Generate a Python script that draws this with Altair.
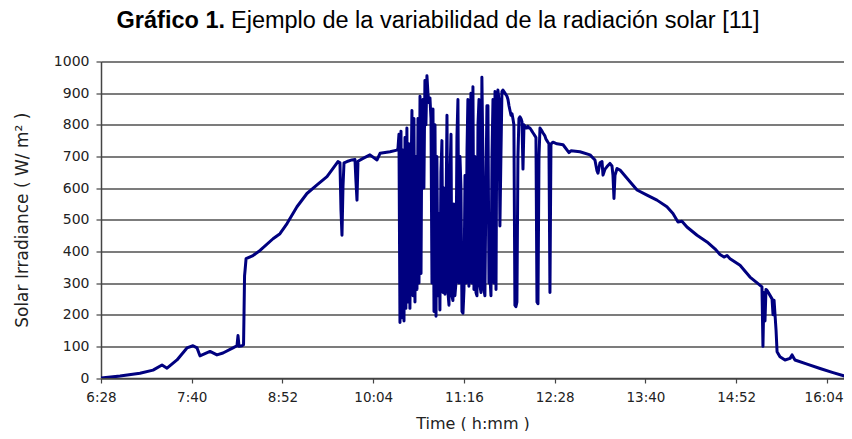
import altair as alt
import pandas as pd

# minutes after 6:28 and irradiance (W/m2)
morning_t = [0, 15.1, 30.9, 41.3, 48.4, 52.4, 60.3, 68.2, 73.0, 76.2,
             78.5, 86.5, 92.0, 96.8, 104.7, 107.9, 108.7, 109.5, 111.9, 113.1,
             113.5, 113.9, 114.3, 115.1, 120.6, 126.2, 136.5, 142.0, 147.6, 155.5,
             163.4, 171.4, 179.3, 184.1, 188.0, 189.6, 190.4, 191.2, 192.0, 192.8,
             195.2, 199.1, 201.5, 202.3, 203.1, 203.9, 207.9, 213.4, 219.0, 221.4,
             229.3, 234.8]
morning_v = [0, 6, 15, 25, 41, 31, 57, 95, 102, 95,
             70, 84, 73, 79, 95, 102, 134, 100, 102, 105,
             212, 323, 340, 377, 387, 403, 440, 456, 488, 541,
             583, 610, 636, 662, 684, 680, 530, 451, 604, 680,
             684, 689, 690, 620, 562, 685, 694, 705, 689, 710,
             715, 720]

midday_t = [235.6, 236.4, 237.2, 238.0, 238.8, 239.6, 240.4, 241.2, 241.9, 242.7,
            243.5, 244.3, 245.1, 245.9, 246.7, 247.5, 248.3, 249.1, 249.9, 250.7,
            251.5, 252.3, 253.1, 253.9, 254.6, 255.4, 256.2, 257.0, 257.8, 258.6,
            259.4, 260.2, 261.0, 261.8, 262.6, 263.4, 264.2, 265.0, 265.8, 266.5,
            267.3, 268.1, 268.9, 269.7, 270.5, 271.3, 272.1, 272.9, 273.7, 274.5,
            275.3, 276.1, 276.9, 277.7, 278.4, 279.2, 280.0, 280.8, 281.6, 282.4,
            283.2, 284.0, 284.8, 285.6, 286.4, 287.2, 288.0, 288.8, 289.6, 290.4,
            291.1, 291.9, 292.7, 293.5, 294.3, 295.1, 295.9, 296.7, 297.5, 298.3,
            299.1, 299.9, 300.7, 301.5, 302.2, 303.0, 303.8, 304.6, 305.4, 306.2,
            307.0, 307.8, 308.6, 309.4, 310.2, 311.0, 311.8, 312.6, 313.4, 314.1,
            314.9, 315.7, 316.5, 317.3, 318.1, 318.9, 319.7, 320.5, 321.3, 322.1,
            322.9, 323.7, 324.5, 325.3, 326.1, 326.8, 327.6, 328.4, 329.2, 330.0,
            330.8, 331.6, 332.4, 333.2, 334.0, 334.8, 335.6, 336.4, 337.2, 338.0,
            338.7, 339.5, 340.3, 341.1, 341.9, 342.7, 343.5, 344.3, 345.1, 345.9,
            346.7, 347.5, 348.3, 349.1, 349.9, 350.6, 351.4, 352.2, 353.0, 353.8,
            354.6, 355.4, 356.2, 357.0, 357.8, 358.6]
midday_v = [725, 770, 175, 780, 190, 720, 180, 760, 220, 790,
            240, 740, 220, 600, 845, 260, 820, 240, 700, 280,
            820, 300, 890, 330, 820, 880, 600, 940, 800, 955,
            900, 870, 885, 820, 300, 850, 210, 800, 195, 700,
            260, 520, 215, 650, 750, 270, 600, 265, 500, 830,
            270, 230, 640, 770, 260, 245, 550, 260, 300, 760,
            880, 300, 700, 600, 210, 205, 280, 640, 300, 720,
            880, 290, 700, 900, 300, 920, 280, 700, 270, 260,
            800, 880, 290, 270, 950, 700, 280, 260, 600, 860,
            860, 300, 320, 260, 700, 880, 300, 905, 280, 860,
            910, 880, 480, 700, 905, 910, 905, 900, 895, 890,
            880, 860, 845, 830, 835, 820, 800, 230, 225, 240,
            700, 820, 825, 820, 810, 660, 800, 795, 790, 790,
            795, 790, 790, 785, 780, 775, 770, 765, 760, 240,
            235, 700, 790, 785, 780, 775, 770, 765, 755, 750,
            745, 740, 270, 740, 742, 745]

afternoon_t = [361.8, 366.6, 371.3, 372.9, 380.0, 388.0, 391.9, 393.5, 394.3, 395.9,
               397.5, 398.3, 399.9, 401.5, 403.8, 405.4, 406.2, 407.0, 407.8, 409.4,
               411.8, 419.7, 425.3, 433.2, 441.1, 449.0, 453.8, 457.8, 460.9, 464.9,
               472.9, 480.8, 487.1, 491.1, 494.3, 496.7, 499.1, 507.0, 514.9, 521.3,
               524.4, 525.2, 526.0, 526.8, 527.6, 528.4, 530.8, 532.4, 533.2, 534.0,
               535.6, 536.4, 538.7, 542.7, 546.7, 548.3, 550.6, 560.2, 570.5, 580.8,
               591.9, 595.8]
afternoon_v = [740, 737, 712, 718, 715, 705, 689, 655, 647, 680,
               684, 641, 660, 668, 678, 670, 640, 567, 640, 662,
               657, 620, 594, 578, 562, 541, 520, 493, 495, 477,
               451, 430, 408, 390, 382, 387, 377, 356, 319, 298,
               288, 100, 270, 180, 280, 277, 261, 250, 200, 246,
               150, 83, 67, 57, 62, 73, 57, 44, 30, 17,
               4, 2]

tick_minutes = [0, 72, 144, 216, 288, 360, 432, 504, 576]
tick_labels = ["6:28", "7:40", "8:52", "10:04", "11:16", "12:28", "13:40", "14:52", "16:04"]
y_ticks = [0, 100, 200, 300, 400, 500, 600, 700, 800, 900, 1000]

title_bold = "Gráfico 1."
title_rest = "Ejemplo de la variabilidad de la radiación solar [11]"

df = pd.DataFrame({"t": morning_t + midday_t + afternoon_t,
                   "v": morning_v + midday_v + afternoon_v})

label_expr = ("[" + ",".join("'%s'" % s for s in tick_labels) + "][indexof(["
              + ",".join(str(m) for m in tick_minutes) + "], datum.value)]")
last_tick_test = "datum.value == %d" % tick_minutes[-1]

FONT = "DejaVu Sans"

line = alt.Chart(df).mark_line(
    color="#00007f", strokeWidth=3, strokeJoin="round", clip=True
).encode(
    x=alt.X("t:Q",
            scale=alt.Scale(domain=[0, 589.5], nice=False, zero=False),
            axis=alt.Axis(values=tick_minutes, labelExpr=label_expr,
                          labelAlign={"condition": {"test": last_tick_test, "value": "right"},
                                      "value": "center"},
                          labelOffset={"condition": {"test": last_tick_test, "value": 16},
                                       "value": 0},
                          title="Time ( h:mm )", grid=False,
                          tickSize=5, labelPadding=7, labelFontSize=13.5,
                          labelFont=FONT, labelColor="#222222",
                          domainColor="#444444", tickColor="#444444",
                          domainWidth=1.5, tickWidth=1.2,
                          titleFont=FONT, titleFontSize=16, titleFontWeight="normal",
                          titleColor="#222222", titleY=50, titleBaseline="alphabetic")),
    y=alt.Y("v:Q",
            scale=alt.Scale(domain=[0, 1000], nice=False),
            axis=alt.Axis(values=y_ticks, format="d", title="Solar Irradiance ( W/ m² )",
                          grid=True, gridColor="#505050", gridWidth=1.3,
                          tickSize=5, labelPadding=7, labelFontSize=14,
                          labelFont=FONT, labelColor="#222222",
                          domainColor="#444444", tickColor="#444444",
                          domainWidth=1.5, tickWidth=1.2,
                          titleFont=FONT, titleFontSize=17, titleFontWeight="normal",
                          titleColor="#222222", titleX=-79, titleBaseline="middle")),
)

title_df = pd.DataFrame({"bold": [title_bold], "rest": [title_rest]})
t_bold = alt.Chart(title_df).mark_text(
    align="right", baseline="alphabetic", fontSize=23.5, fontWeight="bold",
    font="Liberation Sans", color="#000000"
).encode(x=alt.value(124), y=alt.value(-33.5), text="bold:N")
t_rest = alt.Chart(title_df).mark_text(
    align="left", baseline="alphabetic", fontSize=23.5, fontWeight="normal",
    font="Liberation Sans", color="#000000"
).encode(x=alt.value(130), y=alt.value(-33.5), text="rest:N")

chart = alt.layer(line, t_bold, t_rest).properties(
    width=743, height=316.5,
    autosize=alt.AutoSizeParams(type="none"),
    padding={"left": 93, "top": 53.5, "right": 0, "bottom": 53},
).configure_view(stroke=None)

chart.save("out.html", embed_options={"renderer": "svg", "actions": False})
